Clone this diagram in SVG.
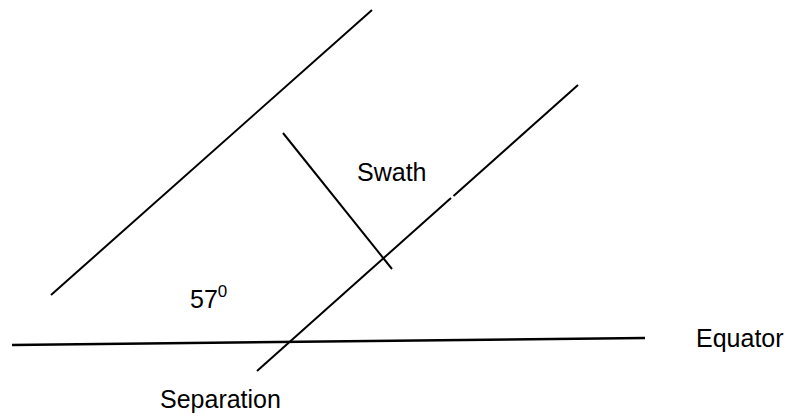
<svg xmlns="http://www.w3.org/2000/svg" width="791" height="416" viewBox="0 0 791 416">
<style>
.ln{stroke:#000;stroke-width:2;fill:none;stroke-linecap:butt}
.t{font-family:"Liberation Sans",Arial,sans-serif;font-size:25px;fill:#000}
</style>
<rect width="791" height="416" fill="#fff"/>
<g id="connectors">
<line class="ln" x1="51" y1="295" x2="372" y2="10"/>
<line class="ln" x1="257" y1="371" x2="451" y2="198"/>
<line class="ln" x1="453.5" y1="196" x2="578" y2="85"/>
<line class="ln" x1="283" y1="133" x2="392" y2="269"/>
<line class="ln" x1="12" y1="345" x2="645" y2="338" style="stroke-width:2.5"/>
</g>
<g id="swath"><text class="t" x="357" y="181">Swath</text></g>
<g id="angle"><text class="t" x="190" y="308">57<tspan font-size="17" dy="-11">0</tspan></text></g>
<g id="equator"><text class="t" x="696" y="347">Equator</text></g>
<g id="separation"><text class="t" x="160" y="408">Separation</text></g>
</svg>
